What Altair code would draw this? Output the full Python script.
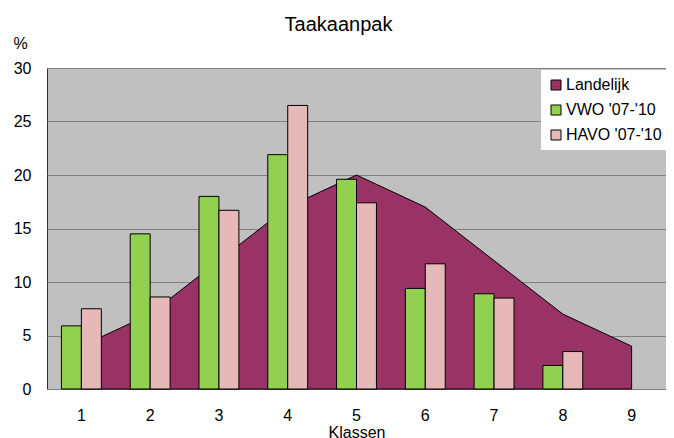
import altair as alt
import pandas as pd

klassen = ["1", "2", "3", "4", "5", "6", "7", "8", "9"]
landelijk = [4, 7, 12, 17, 20, 17, 12, 7, 4]
vwo = [5.9, 14.5, 18.0, 21.9, 19.6, 9.4, 8.9, 2.2]
havo = [7.5, 8.6, 16.7, 26.5, 17.4, 11.7, 8.5, 3.5]
series_names = ["Landelijk", "VWO '07-'10", "HAVO '07-'10"]
colors = ["#993366", "#92D050", "#E6B9B8"]
y_ticks = [0, 5, 10, 15, 20, 25, 30]

FONT = "Liberation Sans"

area_df = pd.DataFrame({"klas": klassen, "serie": series_names[0], "pct": landelijk})
bar_df = pd.DataFrame({
    "klas": klassen[:len(vwo)] + klassen[:len(havo)],
    "serie": [series_names[1]] * len(vwo) + [series_names[2]] * len(havo),
    "pct": vwo + havo,
})

x_scale = alt.Scale(domain=klassen, paddingInner=0.42, paddingOuter=0.21)
y_scale = alt.Scale(domain=[0, 30], nice=False)
color_scale = alt.Scale(domain=series_names, range=colors)

x_axis = alt.Axis(
    title="Klassen", labelAngle=0, ticks=False, domain=False, grid=False,
    labelFontSize=16, labelPadding=18, labelColor="black",
    titleFontSize=16, titleFontWeight="normal", titlePadding=1, titleColor="black",
)
y_axis = alt.Axis(
    title="%", values=y_ticks, ticks=False, domain=False, grid=True,
    gridColor="#808080", gridWidth=1,
    labelFontSize=16, labelPadding=16, labelColor="black",
    titleAngle=0, titleX=-27, titleY=-20, titleAlign="center",
    titleBaseline="alphabetic", titleFontSize=16, titleFontWeight="normal",
    titleColor="black",
)

legend = alt.Legend(
    title=None, orient="none", legendX=494, legendY=2,
    fillColor="white", padding=7, labelFontSize=16, labelColor="black",
    symbolType="square", symbolSize=100, symbolStrokeColor="black",
    symbolStrokeWidth=1, rowPadding=9, labelOffset=2,
)

color_enc = alt.Color("serie:N", scale=color_scale, legend=legend)

area = alt.Chart(area_df).mark_area(stroke="black", strokeWidth=1, opacity=1).encode(
    x=alt.X("klas:N", scale=x_scale, axis=x_axis),
    y=alt.Y("pct:Q", scale=y_scale, axis=y_axis),
    color=color_enc,
)

bars = alt.Chart(bar_df).mark_bar(stroke="black", strokeWidth=1, opacity=1).encode(
    x=alt.X("klas:N", scale=x_scale, axis=x_axis),
    xOffset=alt.XOffset("serie:N", sort=series_names[1:], scale=alt.Scale(paddingInner=0, paddingOuter=0)),
    y=alt.Y("pct:Q", scale=y_scale, axis=y_axis),
    color=color_enc,
)

chart = alt.layer(area, bars).properties(
    width=619,
    height=321,
    title=alt.TitleParams("Taakaanpak", fontSize=20, fontWeight="normal", font=FONT,
                          dx=-18, dy=16, offset=0, baseline="alphabetic", frame="group",
                          color="black"),
    autosize=alt.AutoSizeParams(type="none"),
    padding={"left": 39, "top": 60, "right": 0, "bottom": 49},
).configure(font=FONT).configure_view(
    fill="#C0C0C0", stroke="#303030", strokeWidth=1
)

chart.save("out.html", embed_options={"renderer": "svg", "actions": False})
